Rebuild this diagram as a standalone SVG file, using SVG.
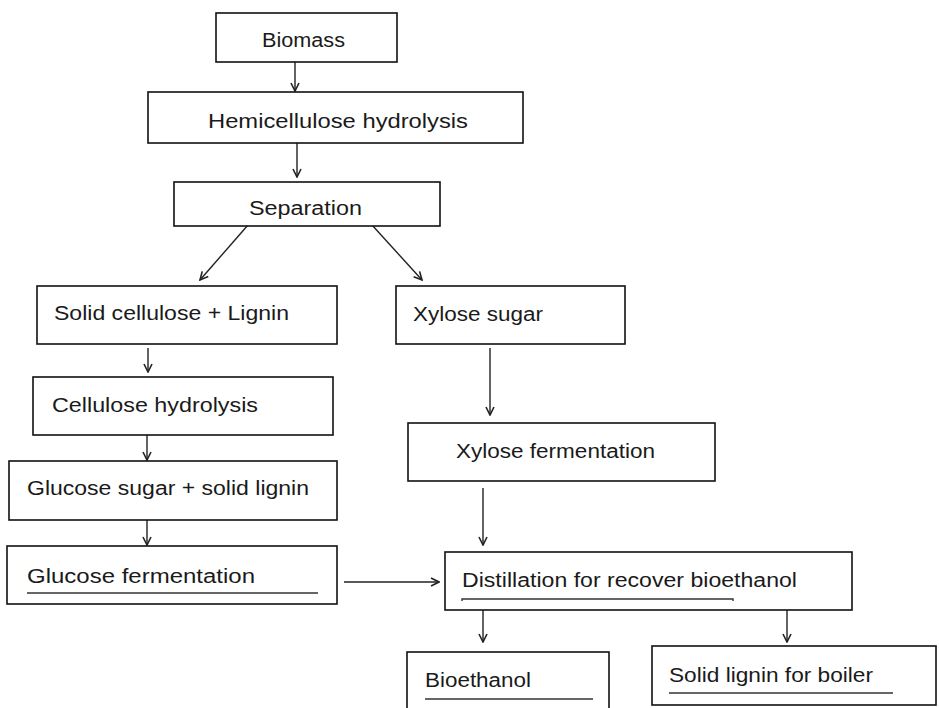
<svg xmlns="http://www.w3.org/2000/svg" width="939" height="708" viewBox="0 0 939 708">
<defs>
<style>
.box{fill:#fff;stroke:#111;stroke-width:1.6}
.t{font-family:"Liberation Sans",Arial,sans-serif;font-size:20px;fill:#1a1a1a}
.c{stroke:#222;stroke-width:1.4;fill:none;marker-end:url(#ah)}
.u{stroke:#333;stroke-width:1.4}
</style>
<marker id="ah" viewBox="0 0 10 10" refX="9" refY="5" markerWidth="10" markerHeight="10" markerUnits="userSpaceOnUse" orient="auto">
<path d="M1,1 L9,5 L1,9" fill="none" stroke="#222" stroke-width="1.6"/>
</marker>
</defs>
<rect width="939" height="708" fill="#fff"/>
<g id="connectors">
<line class="c" x1="295" y1="62" x2="295" y2="91"/>
<line class="c" x1="297" y1="143" x2="297" y2="177"/>
<line class="c" x1="248" y1="225" x2="200" y2="280"/>
<line class="c" x1="372" y1="225" x2="422" y2="280"/>
<line class="c" x1="148" y1="348" x2="148" y2="372"/>
<line class="c" x1="147" y1="435" x2="147" y2="460"/>
<line class="c" x1="147" y1="520" x2="147" y2="545"/>
<line class="c" x1="344" y1="582" x2="439" y2="582"/>
<line class="c" x1="490" y1="348" x2="490" y2="415"/>
<line class="c" x1="483" y1="488" x2="483" y2="545"/>
<line class="c" x1="483" y1="610" x2="483" y2="642"/>
<line class="c" x1="787" y1="610" x2="787" y2="642"/>
</g>
<g id="biomass"><rect class="box" x="216" y="13" width="181" height="49"/><text class="t" x="262" y="47" textLength="83" lengthAdjust="spacingAndGlyphs">Biomass</text></g>
<g id="hemicellulose"><rect class="box" x="148" y="92" width="375" height="51"/><text class="t" x="208" y="128" textLength="260" lengthAdjust="spacingAndGlyphs">Hemicellulose hydrolysis</text></g>
<g id="separation"><rect class="box" x="174" y="182" width="266" height="44"/><text class="t" x="249" y="215" textLength="113" lengthAdjust="spacingAndGlyphs">Separation</text></g>
<g id="solid-cellulose"><rect class="box" x="37" y="286" width="300" height="58"/><text class="t" x="54" y="320" textLength="235" lengthAdjust="spacingAndGlyphs">Solid cellulose + Lignin</text></g>
<g id="xylose-sugar"><rect class="box" x="396" y="286" width="229" height="58"/><text class="t" x="413" y="321" textLength="130" lengthAdjust="spacingAndGlyphs">Xylose sugar</text></g>
<g id="cellulose-hydrolysis"><rect class="box" x="33" y="377" width="300" height="58"/><text class="t" x="52" y="412" textLength="206" lengthAdjust="spacingAndGlyphs">Cellulose hydrolysis</text></g>
<g id="glucose-sugar"><rect class="box" x="9" y="461" width="328" height="59"/><text class="t" x="27" y="495" textLength="282" lengthAdjust="spacingAndGlyphs">Glucose sugar + solid lignin</text></g>
<g id="glucose-fermentation"><rect class="box" x="7" y="546" width="330" height="58"/><text class="t" x="27" y="583" textLength="228" lengthAdjust="spacingAndGlyphs">Glucose fermentation</text><line class="u" x1="27" y1="593" x2="318" y2="593"/></g>
<g id="xylose-fermentation"><rect class="box" x="408" y="423" width="307" height="58"/><text class="t" x="456" y="458" textLength="199" lengthAdjust="spacingAndGlyphs">Xylose fermentation</text></g>
<g id="distillation"><rect class="box" x="445" y="552" width="407" height="58"/><text class="t" x="462" y="587" textLength="335" lengthAdjust="spacingAndGlyphs">Distillation for recover bioethanol</text><path class="u" d="M462,601 V599 H733 V601" fill="none"/></g>
<g id="bioethanol"><rect class="box" x="407" y="652" width="202" height="70"/><text class="t" x="425" y="687" textLength="106" lengthAdjust="spacingAndGlyphs">Bioethanol</text><line class="u" x1="425" y1="699" x2="593" y2="699"/></g>
<g id="solid-lignin"><rect class="box" x="652" y="646" width="284" height="59"/><text class="t" x="669" y="682" textLength="204" lengthAdjust="spacingAndGlyphs">Solid lignin for boiler</text><line class="u" x1="669" y1="693" x2="893" y2="693"/></g>
</svg>
